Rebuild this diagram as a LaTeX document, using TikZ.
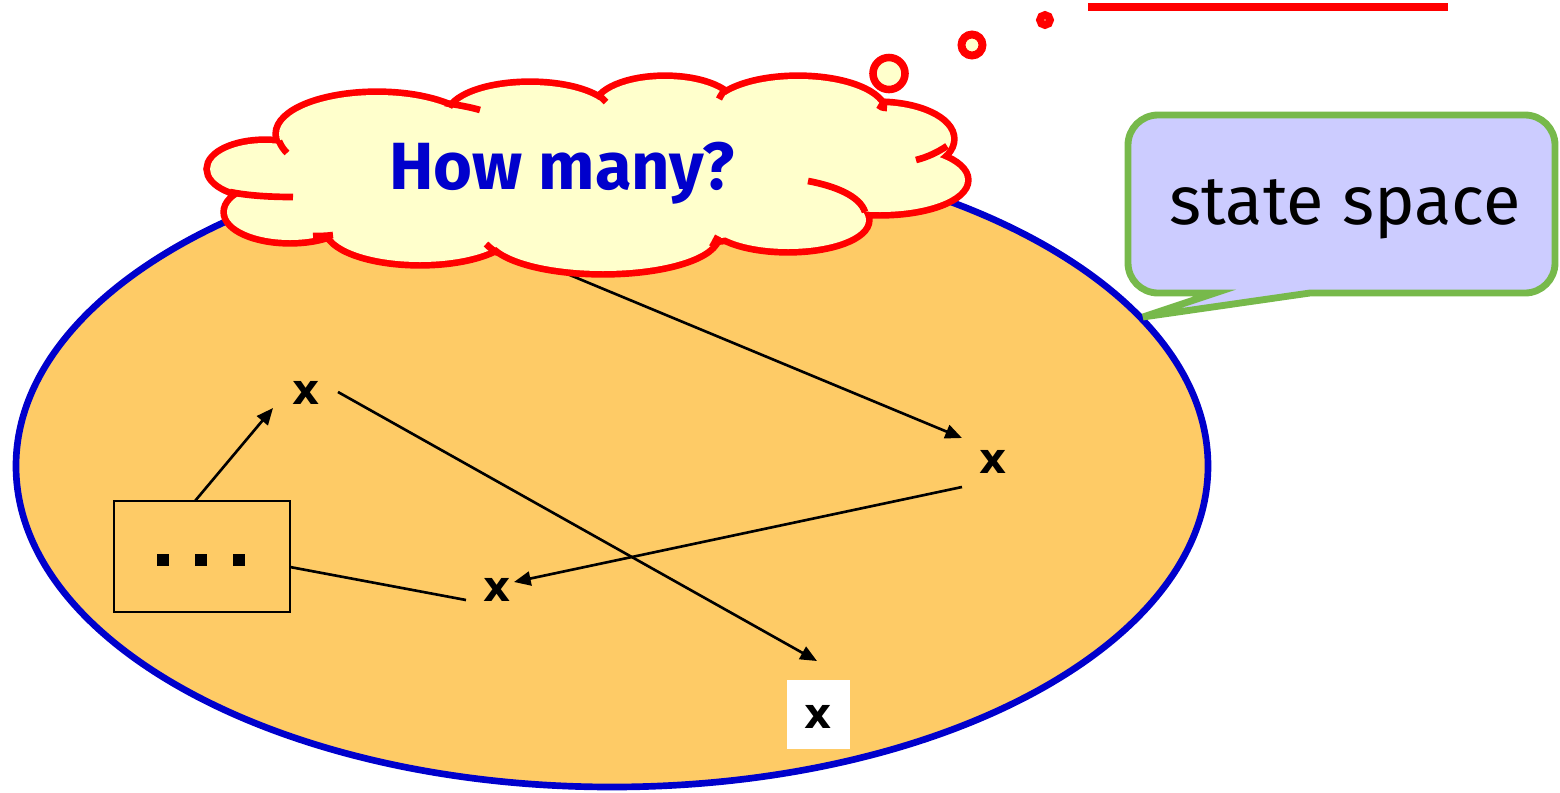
\documentclass[tikz,border=0pt]{standalone}
\usepackage{fontspec}
\setmainfont{Fira Sans}
\newfontfamily\xfont{DejaVu Sans}
\usetikzlibrary{arrows.meta}
\definecolor{spacefill}{HTML}{FECB66}
\definecolor{spaceline}{HTML}{0000CC}
\definecolor{cloudfill}{HTML}{FFFFCC}
\definecolor{cloudline}{HTML}{FF0000}
\definecolor{calloutfill}{HTML}{CCCCFF}
\definecolor{calloutline}{HTML}{77B94B}
\tikzset{
  conn/.style={draw=black, line width=1.5pt},
  arr/.style={conn, -{Triangle[length=9.5pt,width=8pt]}},
  xmark/.style={font=\xfont\bfseries\fontsize{24}{24}\selectfont, inner sep=0pt},
  stub/.style={draw=cloudline, line width=3.8pt},
  bubble/.style={draw=cloudline, line width=4.3pt, fill=cloudfill},
}
\begin{document}
\begin{tikzpicture}[x=0.02cm,y=-0.02cm]
\useasboundingbox (0,0) rectangle (1560,792);
% state space ellipse
\draw[fill=spacefill, draw=spaceline, line width=3.8pt] (612,466) ellipse [x radius=596, y radius=321];
% nodes
\node[xmark] (x1) at (306,393) {x};
\node[xmark] (x2) at (993,462) {x};
\node[xmark] (x3) at (497,590) {x};
\node[fill=white, minimum width=63*0.02cm, minimum height=69*0.02cm, inner sep=0pt] (wb) at (818.5,714.5) {};
\node[xmark] (x4) at (818,717) {x};
\node[draw=black, line width=1.4pt, minimum width=176*0.02cm, minimum height=111*0.02cm, inner sep=0pt] (box) at (202,556.5) {};
\foreach \i/\xx in {1/163,2/201,3/239} \fill (\xx-6,554) rectangle (\xx+6,566);
% connector coordinates
\coordinate (a1s) at (195,501);
\coordinate (a1e) at (273,408);
\coordinate (a2s) at (338,392);
\coordinate (a2e) at (817,661);
\coordinate (a3s) at (500,246);
\coordinate (a3e) at (962,438);
\coordinate (a4s) at (962,487);
\coordinate (a4e) at (514,582);
\coordinate (a5s) at (290,567);
\coordinate (a5e) at (466,600);
\draw[arr] (a3s) -- (a3e);
% cloud
\def\lobes{(265,169) ellipse [x radius=55, y radius=26]
  (290,212) ellipse [x radius=63, y radius=28]
  (377,134) ellipse [x radius=98, y radius=39]
  (530,116) ellipse [x radius=80, y radius=31]
  (665,108) ellipse [x radius=68, y radius=29]
  (798,113) ellipse [x radius=85, y radius=34]
  (878,139) ellipse [x radius=73, y radius=34]
  (880,180) ellipse [x radius=85, y radius=32]
  (788,220) ellipse [x radius=78, y radius=29]
  (603,235) ellipse [x radius=113, y radius=36]
  (420,228) ellipse [x radius=92, y radius=34]
  (590,175) ellipse [x radius=300, y radius=70]}
\draw[draw=cloudline, line width=7.6pt, fill=cloudfill] \lobes;
\fill[cloudfill] \lobes;
% inner stubs
\draw[stub] (230,192) .. controls (245,195) and (265,197) .. (293,197);
\draw[stub] (279,141) .. controls (281,146) and (284,150) .. (287,153);
\draw[stub] (445,103) .. controls (458,105) and (470,107) .. (480,110);
\draw[stub] (598,94) .. controls (601,97) and (603,99) .. (606,102);
\draw[stub] (726,89) .. controls (723,92) and (721,95) .. (719,99);
\draw[stub] (878,105) .. controls (880,107) and (883,108) .. (887,108);
\draw[stub] (947,146) .. controls (938,152) and (928,157) .. (916,160);
\draw[stub] (808,181) .. controls (835,186) and (860,196) .. (865,212);
\draw[stub] (718,236) .. controls (716,240) and (714,244) .. (712,247);
\draw[stub] (486,244) .. controls (490,248) and (494,251) .. (498,253);
\draw[stub] (313,236) .. controls (320,236) and (326,236) .. (333,235);
\node[font=\bfseries\fontsize{38}{38}\selectfont, text=spaceline] (q) at (562,173) {How many?};
% thought bubbles
\draw[bubble] (889,73.5) circle [radius=16];
\draw[bubble, line width=4.5pt] (972,45) circle [radius=10.5];
\draw[bubble, line width=4.4pt] (1045,20) circle [radius=5];
\draw[draw=cloudline, line width=4.2pt] (1088,7) -- (1448,7);
% callout
\draw[draw=calloutline, line width=3.9pt, fill=calloutfill, line join=miter]
  (1215,293) [rounded corners=0.6cm] -- (1128,293) -- (1128,115) -- (1555,115) -- (1555,293) [sharp corners] -- (1310,293) -- (1143,317) -- cycle;
\node[font=\fontsize{39}{39}\selectfont] (lab) at (1345,209) {state space};
% connectors
\draw[arr] (a1s) -- (a1e);
\draw[arr] (a2s) -- (a2e);
\draw[arr] (a4s) -- (a4e);
\draw[conn] (a5s) -- (a5e);
\end{tikzpicture}
\end{document}
